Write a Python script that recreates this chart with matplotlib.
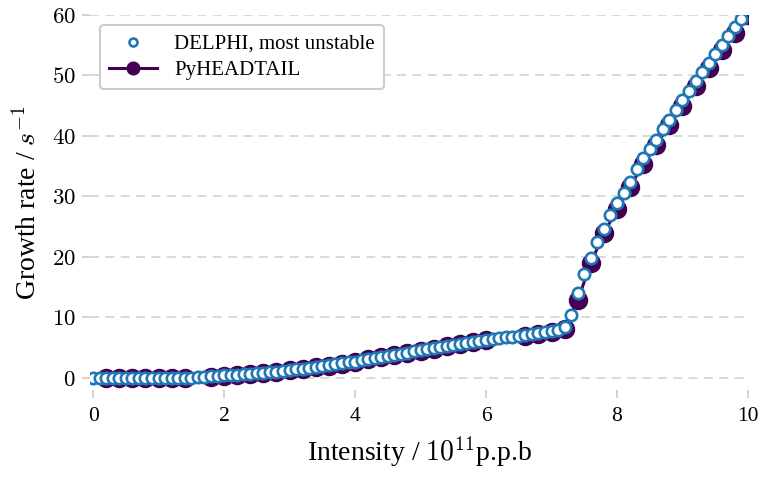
import numpy as np
import matplotlib
matplotlib.use("Agg")
import matplotlib.pyplot as plt
from matplotlib.ticker import FuncFormatter

plt.rcParams['font.family'] = ['Liberation Serif', 'DejaVu Serif']
plt.rcParams['mathtext.fontset'] = 'cm'

# DELPHI, most unstable mode (intensity in 1e11 p.p.b)
delphi_x = [round(0.1 * i, 1) for i in range(100)]
delphi_y = [0.0, 0.0, 0.0, 0.0, 0.0, 0.0, 0.0, 0.0, 0.0, 0.0,
            0.0, 0.0, 0.0, 0.0, 0.02, 0.05, 0.1, 0.15, 0.25, 0.3,
            0.4, 0.45, 0.55, 0.6, 0.7, 0.8, 0.85, 0.95, 1.05, 1.15,
            1.3, 1.4, 1.55, 1.65, 1.8, 1.95, 2.1, 2.25, 2.4, 2.55,
            2.7, 2.9, 3.1, 3.3, 3.5, 3.65, 3.85, 4.0, 4.2, 4.4,
            4.55, 4.75, 4.9, 5.1, 5.25, 5.45, 5.6, 5.8, 5.95, 6.1,
            6.3, 6.45, 6.6, 6.7, 6.8, 6.95, 7.1, 7.25, 7.4, 7.55,
            7.7, 7.9, 8.4, 10.4, 14.0, 17.2, 19.9, 22.5, 24.6, 26.9,
            28.9, 30.6, 32.4, 34.5, 36.3, 37.9, 39.4, 41.1, 42.6, 44.3,
            45.9, 47.4, 49.1, 50.6, 52.0, 53.5, 55.0, 56.5, 58.0, 59.4]

# PyHEADTAIL
pyht_x = [0.2, 0.4, 0.6, 0.8, 1.0, 1.2, 1.4, 1.8, 2.0, 2.2, 2.4, 2.6, 2.8,
          3.0, 3.2, 3.4, 3.6, 3.8, 4.0, 4.2, 4.4, 4.6, 4.8, 5.0, 5.2, 5.4,
          5.6, 5.8, 6.0, 6.6, 6.8, 7.0, 7.2, 7.4, 7.6, 7.8, 8.0, 8.2, 8.4,
          8.6, 8.8, 9.0, 9.2, 9.4, 9.6, 9.8, 10.0]
pyht_y = [0.0, 0.0, 0.0, 0.0, 0.0, 0.0, 0.0, 0.22, 0.38, 0.52, 0.68, 0.84, 1.02,
          1.25, 1.5, 1.75, 2.05, 2.35, 2.65, 3.05, 3.45, 3.8, 4.15, 4.5, 4.85, 5.2,
          5.55, 5.9, 6.2, 7.0, 7.3, 7.6, 8.1, 12.8, 19.0, 23.9, 27.9, 31.6, 35.3,
          38.5, 41.8, 45.0, 48.2, 51.2, 54.2, 57.0, 60.0]

xticks = [0, 2, 4, 6, 8, 10]
yticks = [0, 10, 20, 30, 40, 50, 60]

purple = '#440154'
blue = '#1f78b4'

fig = plt.figure(figsize=(7.63, 4.78), dpi=100)
ax = fig.add_axes([0.1186, 0.1841, 0.9803 - 0.1186, 0.9686 - 0.1841])

ax.plot(pyht_x, pyht_y, '-o', color=purple, ms=13, lw=2.2,
        label='PyHEADTAIL', zorder=2)
ax.plot(delphi_x, delphi_y, 'o', ls='none', mfc='white', mec=blue,
        mew=1.9, ms=8.2, label='DELPHI, most unstable', zorder=3)

ax.set_xlim(-0.04, 10.0)
ax.set_ylim(-2.0, 60.0)
ax.set_xticks(xticks)
ax.set_yticks(yticks)
ax.yaxis.set_major_formatter(FuncFormatter(lambda v, p: r'$%d$' % v))

for s in ax.spines.values():
    s.set_visible(False)
ax.tick_params(axis='both', direction='out', length=5.5, width=1.2,
               color='#cccccc', pad=7)
ax.tick_params(axis='x', labelsize=15.5)
ax.tick_params(axis='y', labelsize=16.5, pad=5)
ax.yaxis.grid(True, linestyle=(0, (5, 3.5)), color='#d6d9d2', lw=1.3)
ax.set_axisbelow(True)

ax.set_xlabel(r'Intensity / $10^{11}$p.p.b', fontsize=20, labelpad=6)
ax.set_ylabel(r'Growth rate / $s^{-1}$', fontsize=20, labelpad=7)

h, l = ax.get_legend_handles_labels()
leg = ax.legend(h[::-1], l[::-1], loc='upper left', bbox_to_anchor=(0.005, 0.99),
                fontsize=15, frameon=True, fancybox=True, markerscale=0.7,
                handlelength=2.3, handletextpad=0.8, borderpad=0.45,
                labelspacing=0.3, borderaxespad=0.3)
leg.get_frame().set_edgecolor('#cccccc')
leg.get_frame().set_linewidth(1.5)
leg.get_frame().set_alpha(1.0)

fig.savefig('out.png', dpi=100)
